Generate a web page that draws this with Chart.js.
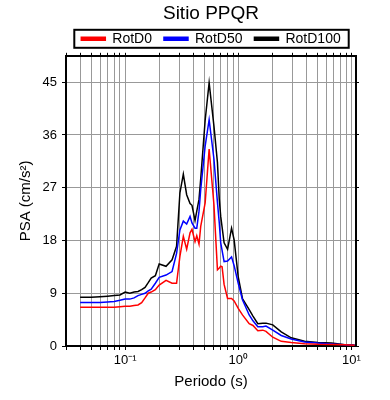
<!DOCTYPE html>
<html>
<head>
<meta charset="utf-8">
<script src="https://cdn.jsdelivr.net/npm/chart.js@4.4.1/dist/chart.umd.min.js"></script>
<style>
  html, body { margin: 0; padding: 0; background: #fff; }
  #wrap { width: 390px; height: 400px; }
</style>
</head>
<body>
<div id="wrap"><canvas id="graph1"></canvas></div>
<script>
const periods = [0.04, 0.05, 0.06, 0.07, 0.08, 0.09, 0.1, 0.11, 0.12, 0.13, 0.14, 0.15, 0.16, 0.17, 0.185, 0.2,
  0.23, 0.26, 0.285, 0.305, 0.327, 0.35, 0.375, 0.39, 0.415, 0.43, 0.45, 0.466, 0.51, 0.553, 0.61, 0.655,
  0.68, 0.7, 0.72, 0.75, 0.805, 0.873, 0.92, 1.0, 1.09, 1.25, 1.35, 1.49, 1.65, 1.76, 2.02, 2.4, 2.94,
  3.86, 5.06, 6.68, 8.75, 10.7];

const rotD0 = [6.6, 6.6, 6.6, 6.6, 6.6, 6.7, 6.8, 6.8, 6.9, 7.0, 7.4, 8.2, 9.0, 9.2, 9.6, 10.4,
  11.2, 10.7, 10.7, 15.3, 18.7, 16.5, 19.3, 19.9, 17.8, 18.8, 17.4, 20.4, 24.4, 33.6, 24.1, 13.0,
  13.3, 13.6, 13.5, 10.5, 8.1, 8.1, 7.7, 6.4, 5.3, 3.8, 3.5, 2.6, 2.7, 2.5, 1.5, 0.8, 0.6,
  0.4, 0.3, 0.25, 0.2, 0.12];

const rotD50 = [7.4, 7.4, 7.4, 7.5, 7.6, 7.8, 8.0, 8.0, 8.2, 8.6, 8.8, 9.0, 9.4, 9.7, 10.7, 11.7,
  12.1, 12.7, 15.8, 19.8, 21.3, 20.8, 22.1, 21.0, 20.1, 20.1, 23.0, 26.7, 34.1, 38.6, 31.9, 24.5,
  21.0, 17.6, 16.3, 14.4, 14.5, 15.2, 13.7, 10.7, 7.9, 5.3, 4.3, 3.3, 3.3, 3.4, 2.7, 1.8, 1.2,
  0.7, 0.5, 0.35, 0.2, 0.12];

const rotD100 = [8.3, 8.3, 8.4, 8.5, 8.6, 8.7, 9.2, 9.0, 9.2, 9.3, 9.6, 10.0, 10.8, 11.6, 12.0, 14.0,
  13.6, 14.7, 17.0, 26.1, 29.3, 25.8, 24.3, 24.0, 21.4, 23.0, 25.0, 28.5, 38.5, 44.9, 37.5, 31.3,
  25.0, 22.1, 20.3, 17.6, 16.5, 20.1, 18.1, 11.8, 8.1, 6.2, 5.1, 3.8, 3.9, 3.9, 3.6, 2.4, 1.4,
  0.8, 0.6, 0.5, 0.2, 0.15];

const seriesNames = ['RotD0', 'RotD50', 'RotD100'];
const seriesColors = ['#ff0000', '#0000ff', '#000000'];

const xTickValues = [0.1, 1, 10];
const xTickLabels = ['10⁻¹', '10⁰', '10¹'];

const FONT = "'Liberation Sans', Arial, Helvetica, sans-serif";

function toPoints(vals) {
  return periods.map((p, i) => ({ x: p, y: vals[i] }));
}

// keep only 1..9 x 10^n ticks (drop chart.js's 1.5 steps and the max)
function keepDecadeTicks(scale) {
  scale.ticks = scale.ticks.filter(t => {
    const e = Math.floor(Math.log10(t.value) + 1e-9);
    const s = t.value / Math.pow(10, e);
    return Math.abs(s - Math.round(s)) < 1e-6;
  });
}

function xLabel(value) {
  const i = xTickValues.findIndex(v => Math.abs(v - value) < 1e-9);
  return i >= 0 ? xTickLabels[i] : '';
}

const legendFrame = {
  id: 'legendFrame',
  afterDraw(chart) {
    const hb = chart.legend.legendHitBoxes;
    if (!hb || !hb.length) return;
    const last = hb[hb.length - 1];
    const left = hb[0].left - 7;
    const right = last.left + last.width + 8;
    const cy = hb[0].top + hb[0].height / 2;
    const ctx = chart.ctx;
    ctx.save();
    ctx.strokeStyle = '#000';
    ctx.lineWidth = 2;
    ctx.strokeRect(left, cy - 9, right - left, 18);
    ctx.restore();
  }
};

const ds = [rotD0, rotD50, rotD100].map((vals, i) => ({
  label: seriesNames[i],
  data: toPoints(vals),
  borderColor: seriesColors[i],
  backgroundColor: seriesColors[i],
  borderWidth: 1.5,
  pointRadius: 0,
  tension: 0,
  fill: false
}));

const ctx1 = document.getElementById('graph1').getContext('2d');
new Chart(ctx1, {
  type: 'line',
  data: { datasets: ds },
  plugins: [legendFrame],
  options: {
    responsive: true,
    maintainAspectRatio: false,
    animation: false,
    layout: { padding: { left: 0, right: 34, top: 0, bottom: 0 } },
    plugins: {
      title: {
        display: true,
        text: 'Sitio PPQR',
        fullSize: false,
        color: '#000',
        font: { family: FONT, size: 19, weight: 'normal' },
        padding: { top: 2, bottom: -5 }
      },
      legend: {
        fullSize: false,
        labels: {
          color: '#000',
          font: { family: FONT, size: 14 },
          boxWidth: 24,
          boxHeight: 3,
          padding: 12
        }
      },
      tooltip: { enabled: false }
    },
    scales: {
      x: {
        type: 'logarithmic',
        position: 'bottom',
        min: 0.03,
        max: 11,
        afterBuildTicks: keepDecadeTicks,
        afterFit(scale) { scale.height = 54; },
        grid: { color: '#999', tickColor: '#000', tickLength: 4 },
        border: { color: '#000', width: 2 },
        ticks: {
          autoSkip: false,
          maxRotation: 0,
          color: '#000',
          padding: 3,
          font: { family: FONT, size: 13 },
          callback: xLabel
        },
        title: {
          display: true,
          text: 'Periodo (s)',
          color: '#000',
          font: { family: FONT, size: 15 },
          padding: { top: 0, bottom: 9 }
        }
      },
      xTop: {
        type: 'logarithmic',
        position: 'top',
        min: 0.03,
        max: 11,
        afterBuildTicks: keepDecadeTicks,
        afterFit(scale) { scale.height = 0; },
        grid: { drawOnChartArea: false, tickColor: '#000', tickLength: 3 },
        border: { color: '#000', width: 2 },
        ticks: { display: false, autoSkip: false }
      },
      y: {
        position: 'left',
        min: 0,
        max: 49.5,
        afterFit(scale) { scale.width = 66; },
        grid: { color: '#999', tickColor: '#000', tickLength: 4 },
        border: { color: '#000', width: 2 },
        ticks: {
          stepSize: 9,
          includeBounds: false,
          color: '#000',
          padding: 5,
          font: { family: FONT, size: 13 }
        },
        title: {
          display: true,
          text: 'PSA (cm/s²)',
          color: '#000',
          font: { family: FONT, size: 15 },
          padding: { top: 17, bottom: 0 }
        }
      },
      yRight: {
        position: 'right',
        min: 0,
        max: 49.5,
        afterFit(scale) { scale.width = 0; },
        grid: { drawOnChartArea: false, tickColor: '#000', tickLength: 3 },
        border: { color: '#000', width: 2 },
        ticks: { display: false, stepSize: 9, includeBounds: false }
      }
    }
  }
});
</script>
</body>
</html>
